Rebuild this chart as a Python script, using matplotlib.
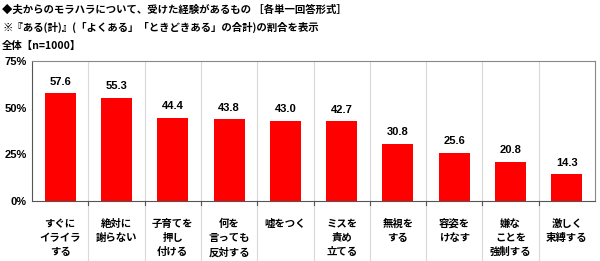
import matplotlib
matplotlib.use("Agg")
from matplotlib import pyplot as plt
import matplotlib.ticker as ticker

plt.rcParams['font.family'] = ['Noto Sans CJK JP', 'DejaVu Sans']

categories = ['すぐに\nイライラ\nする', '絶対に\n謝らない', '子育てを\n押し\n付ける',
              '何を\n言っても\n反対する', '嘘をつく', 'ミスを\n責め\n立てる',
              '無視を\nする', '容姿を\nけなす', '嫌な\nことを\n強制する', '激しく\n束縛する']
values = [57.6, 55.3, 44.4, 43.8, 43.0, 42.7, 30.8, 25.6, 20.8, 14.3]
yticks = [0, 25, 50, 75]

fig = plt.figure(figsize=(6.0, 2.61), dpi=100)
ax = fig.add_axes([32 / 600, 60 / 261, 563 / 600, 140 / 261])

x = list(range(len(values)))
ax.bar(x, values, width=0.55, color='#ff0000', zorder=3)
for xi, v in zip(x, values):
    ax.text(xi, v + 3.6, f'{v:.1f}', ha='center', va='bottom', fontsize=8,
            fontweight='bold', color='black', family='Liberation Sans')

ax.set_xlim(-0.5, len(values) - 0.5)
ax.set_ylim(0, 75)
ax.yaxis.set_major_locator(ticker.FixedLocator(yticks))
ax.set_yticklabels([f'{t}%' for t in yticks], fontsize=8, fontweight='bold',
                   family='Liberation Sans')
ax.tick_params(axis='y', length=0, pad=4)
ax.set_xticks([])

# separators between categories (run down through the label area)
for b in range(1, len(values)):
    ax.axvline(b - 0.5, ymin=-0.43, ymax=1, color='#d9d9d9', linewidth=0.8,
               clip_on=False, zorder=1)
    ax.plot([b - 0.5, b - 0.5], [0, -2], color='#555555', linewidth=0.8,
            clip_on=False)

for s in ['top', 'right']:
    ax.spines[s].set_color('#888888')
    ax.spines[s].set_linewidth(0.8)
for s in ['left', 'bottom']:
    ax.spines[s].set_color('#555555')
    ax.spines[s].set_linewidth(0.8)

for xi, lab in zip(x, categories):
    ax.text(xi, -9.5, lab, ha='center', va='top', fontsize=7.5, fontweight='bold',
            linespacing=1.5)

fig.text(2 / 600, 1 - 10 / 261, '◆夫からのモラハラについて、受けた経験があるもの ［各単一回答形式］',
         fontsize=7.5, fontweight='bold', va='center', ha='left')
fig.text(2 / 600, 1 - 27 / 261, '※『ある(計)』(「よくある」「ときどきある」の合計)の割合を表示',
         fontsize=7.5, fontweight='bold', va='center', ha='left')
fig.text(2 / 600, 1 - 46 / 261, '全体【n=1000】',
         fontsize=7.5, fontweight='bold', va='center', ha='left')

fig.savefig('out.png', dpi=100)
